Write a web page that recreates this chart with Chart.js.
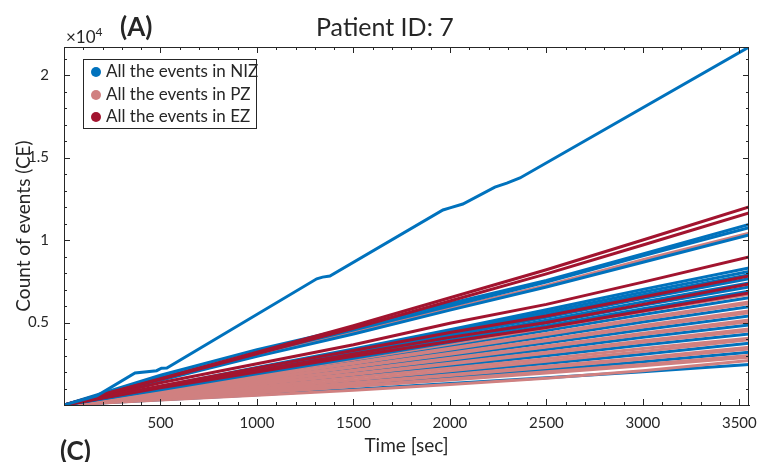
<!DOCTYPE html>
<html>
<head>
<meta charset="utf-8">
<script src="https://cdn.jsdelivr.net/npm/chart.js@4.4.1/dist/chart.umd.min.js"></script>
<style>
body{margin:0;background:#fff;font-family:Lato,sans-serif;color:#262626}
#wrap{position:relative;width:761px;height:462px;overflow:hidden}
#wrap canvas{position:absolute;left:0;top:0}
.txt{position:absolute;white-space:nowrap;line-height:1}
#legend{position:absolute;left:83px;top:59px;width:172px;height:68px;border:1px solid #262626;background:#fff}
.item{position:absolute;left:0;height:20px;font-size:17px;line-height:20px;white-space:nowrap}
.dot{position:absolute;left:7px;top:6px;width:10px;height:10px;border-radius:50%}
.item span{position:absolute;left:22px;top:0;white-space:nowrap}
</style>
</head>
<body>
<div id="wrap">
  <canvas id="c" width="761" height="462"></canvas>
  <div class="txt" style="left:120px;top:13px;font-size:26px;font-weight:bold">(A)</div>
  <div class="txt" style="left:316px;top:14px;font-size:25px">Patient ID: 7</div>
  <div class="txt" style="left:66px;top:26px;font-size:17px">&times;10<sup style="font-size:12px;vertical-align:7px">4</sup></div>
  <div class="txt" style="left:60px;top:437px;font-size:26px;font-weight:bold">(C)</div>
  <div id="legend"></div>
</div>
<script>
// courbes cumulées du nombre d'évènements par canal, patient 7

var colorNIZ='#0072BD', colorPZ='#D08080', colorEZ='#A2142F'
var legendNames=["All the events in NIZ","All the events in PZ","All the events in EZ"]

var times=[0,500,1000,1500,2000,2500,3000,3550]   // temps communs [sec]

// le canal NIZ isolé (tout en haut)
var outlierTimes=[0,170,368,480,505,533,1310,1340,1378,1964,2000,2067,2233,2295,2363,3550]
var outlierCounts=[0,560,1940,2080,2230,2240,7650,7750,7820,11820,11950,12180,13210,13450,13760,21700]

// canaux NIZ dessinés par dessus les PZ (groupe du haut et bande du milieu)
var nizLines=[
  [0,1800,3350,4700,6150,7550,9150,10950],
  [0,1650,3150,4550,6000,7450,9050,10750],
  [0,1500,2950,4300,5750,7150,8650,10300],
  [0,1120,2280,3400,4570,5770,7010,8300],
  [0,1090,2230,3320,4460,5630,6840,8100],
  [0,1070,2170,3240,4350,5490,6680,7900],
  [0,1030,2100,3140,4210,5320,6460,7650],
  [0,1000,2040,3030,4070,5140,6250,7400],
  [0,970,1970,2930,3930,4970,6040,7150],
  [0,930,1900,2830,3800,4800,5830,6900]
]
// canaux NIZ sous les PZ : visibles seulement quand les PZ s'écartent
var nizLinesBehind=[
  [0,880,1790,2670,3580,4520,5490,6500],
  [0,800,1640,2440,3270,4140,5030,5950],
  [0,730,1490,2210,2970,3750,4560,5400],
  [0,650,1330,1990,2670,3370,4100,4850],
  [0,580,1180,1760,2370,2990,3630,4300],
  [0,470,940,1440,1970,2510,3080,3750],
  [0,400,800,1230,1680,2140,2620,3200],
  [0,320,620,950,1300,1650,2020,2450]
]

var pzLines=[
  [0,1550,3000,4400,5850,7250,8800,10420],
  [0,920,1870,2790,3740,4730,5750,6800],
  [0,900,1840,2750,3690,4660,5660,6700],
  [0,840,1720,2560,3440,4340,5280,6250],
  [0,830,1690,2520,3380,4270,5200,6150],
  [0,770,1570,2340,3140,3960,4820,5700],
  [0,760,1540,2300,3080,3890,4730,5600],
  [0,700,1420,2110,2830,3580,4350,5150],
  [0,680,1390,2070,2780,3510,4270,5050],
  [0,620,1270,1890,2530,3200,3890,4600],
  [0,610,1240,1850,2480,3130,3800,4500],
  [0,550,1110,1660,2230,2810,3420,4050],
  [0,490,990,1520,2070,2650,3240,3950],
  [0,440,880,1350,1840,2350,2870,3500],
  [0,430,850,1310,1790,2280,2790,3400],
  [0,380,750,1160,1580,2010,2460,3000],
  [0,360,730,1120,1520,1940,2380,2900],
  [0,300,590,900,1250,1620,2080,2700]
]

var ezLines=[
  [0,1600,3200,4800,6500,8200,10000,12000],
  [0,1560,3100,4650,6300,7950,9700,11640],
  [0,1350,2500,3650,4950,6100,7450,8970],
  [0,1150,2250,3300,4400,5400,6550,7820],
  [0,1100,2100,3100,4100,5000,6100,7330],
  [0,1050,2000,2950,3850,4700,5700,6790]
]

var xTicks=[500,1000,1500,2000,2500,3000,3500]
var yTicks=[5000,10000,15000,20000]
var yTickLabels=['0.5','1','1.5','2']
var xMax=3550, yMax=21700

function ligne(xs,ys,color,label){
  return {
    label:label,
    data:xs.map(function(x,i){return {x:x,y:ys[i]}}),
    borderColor:color,
    backgroundColor:color,
    borderWidth:3,
    pointRadius:0,
    tension:0,
    fill:false
  }
}

// l'ordre du tableau = l'ordre d'affichage (le premier est dessiné au dessus)
var datasets=[ligne(outlierTimes,outlierCounts,colorNIZ,legendNames[0])]
ezLines.forEach(function(l){datasets.push(ligne(times,l,colorEZ,legendNames[2]))})
nizLines.forEach(function(l){datasets.push(ligne(times,l,colorNIZ,legendNames[0]))})
pzLines.forEach(function(l){datasets.push(ligne(times,l,colorPZ,legendNames[1]))})
nizLinesBehind.forEach(function(l){datasets.push(ligne(times,l,colorNIZ,legendNames[0]))})

// petits traits vers l'intérieur sur les 4 cotés (style matlab)
const boxTicks={
  id:'boxTicks',
  afterDatasetsDraw:(chart)=>{
    const {ctx,chartArea:a,scales}=chart
    ctx.save()
    ctx.strokeStyle='#262626'
    ctx.lineWidth=1
    ctx.beginPath()
    for(var v=0;v<=xMax;v+=100){
      var px=Math.round(scales.x.getPixelForValue(v))+0.5
      var len=(v%500==0)?6:3
      ctx.moveTo(px,a.bottom);ctx.lineTo(px,a.bottom-len)
      ctx.moveTo(px,a.top);ctx.lineTo(px,a.top+len)
    }
    for(var v=0;v<=yMax;v+=1000){
      var py=Math.round(scales.y.getPixelForValue(v))+0.5
      var len=(v%5000==0)?6:3
      ctx.moveTo(a.left,py);ctx.lineTo(a.left+len,py)
      ctx.moveTo(a.right,py);ctx.lineTo(a.right-len,py)
    }
    ctx.stroke()
    ctx.strokeRect(Math.round(a.left)+0.5,Math.round(a.top)+0.5,Math.round(a.right-a.left)-1,Math.round(a.bottom-a.top))
    ctx.restore()
  }
}

var config={
  type:'line',
  data:{datasets:datasets},
  options:{
    responsive:false,
    animation:false,
    events:[],
    layout:{padding:{top:47,right:12,left:0,bottom:0}},
    plugins:{legend:{display:false},tooltip:{enabled:false},title:{display:false}},
    scales:{
      x:{
        type:'linear',min:0,max:xMax,
        grid:{display:false},
        border:{display:true,color:'#262626'},
        afterBuildTicks:function(s){s.ticks=xTicks.map(function(v){return {value:v}})},
        afterFit:function(s){s.height=57},
        ticks:{color:'#262626',font:{family:'Lato',size:15},padding:1,maxRotation:0,autoSkip:false,
          callback:function(v){return String(v)}},
        title:{display:true,text:'Time [sec]',color:'#262626',font:{family:'Lato',size:19},padding:{top:0,bottom:5}}
      },
      y:{
        type:'linear',min:0,max:yMax,
        grid:{display:false},
        border:{display:true,color:'#262626'},
        afterBuildTicks:function(s){s.ticks=yTicks.map(function(v){return {value:v}})},
        afterFit:function(s){s.width=64},
        ticks:{color:'#262626',font:{family:'Lato',size:15},padding:7,autoSkip:false,
          callback:function(v){var i=yTicks.indexOf(v);return i>=0?yTickLabels[i]:''}},
        title:{display:true,text:'Count of events (CE)',color:'#262626',font:{family:'Lato',size:19},padding:{top:12,bottom:0}}
      }
    }
  },
  plugins:[boxTicks]
}

var chart=new Chart(document.getElementById('c'),config)

// la légende dans un cadre en haut à gauche
var legend=document.getElementById('legend')
var legendColors=[colorNIZ,colorPZ,colorEZ]
for(var i=0;i<legendNames.length;i++){
  var it=document.createElement('div')
  it.className='item'
  it.style.top=(1+i*22.5)+'px'
  it.innerHTML='<div class="dot" style="background:'+legendColors[i]+'"></div><span>'+legendNames[i]+'</span>'
  legend.appendChild(it)
}
</script>
</body>
</html>
